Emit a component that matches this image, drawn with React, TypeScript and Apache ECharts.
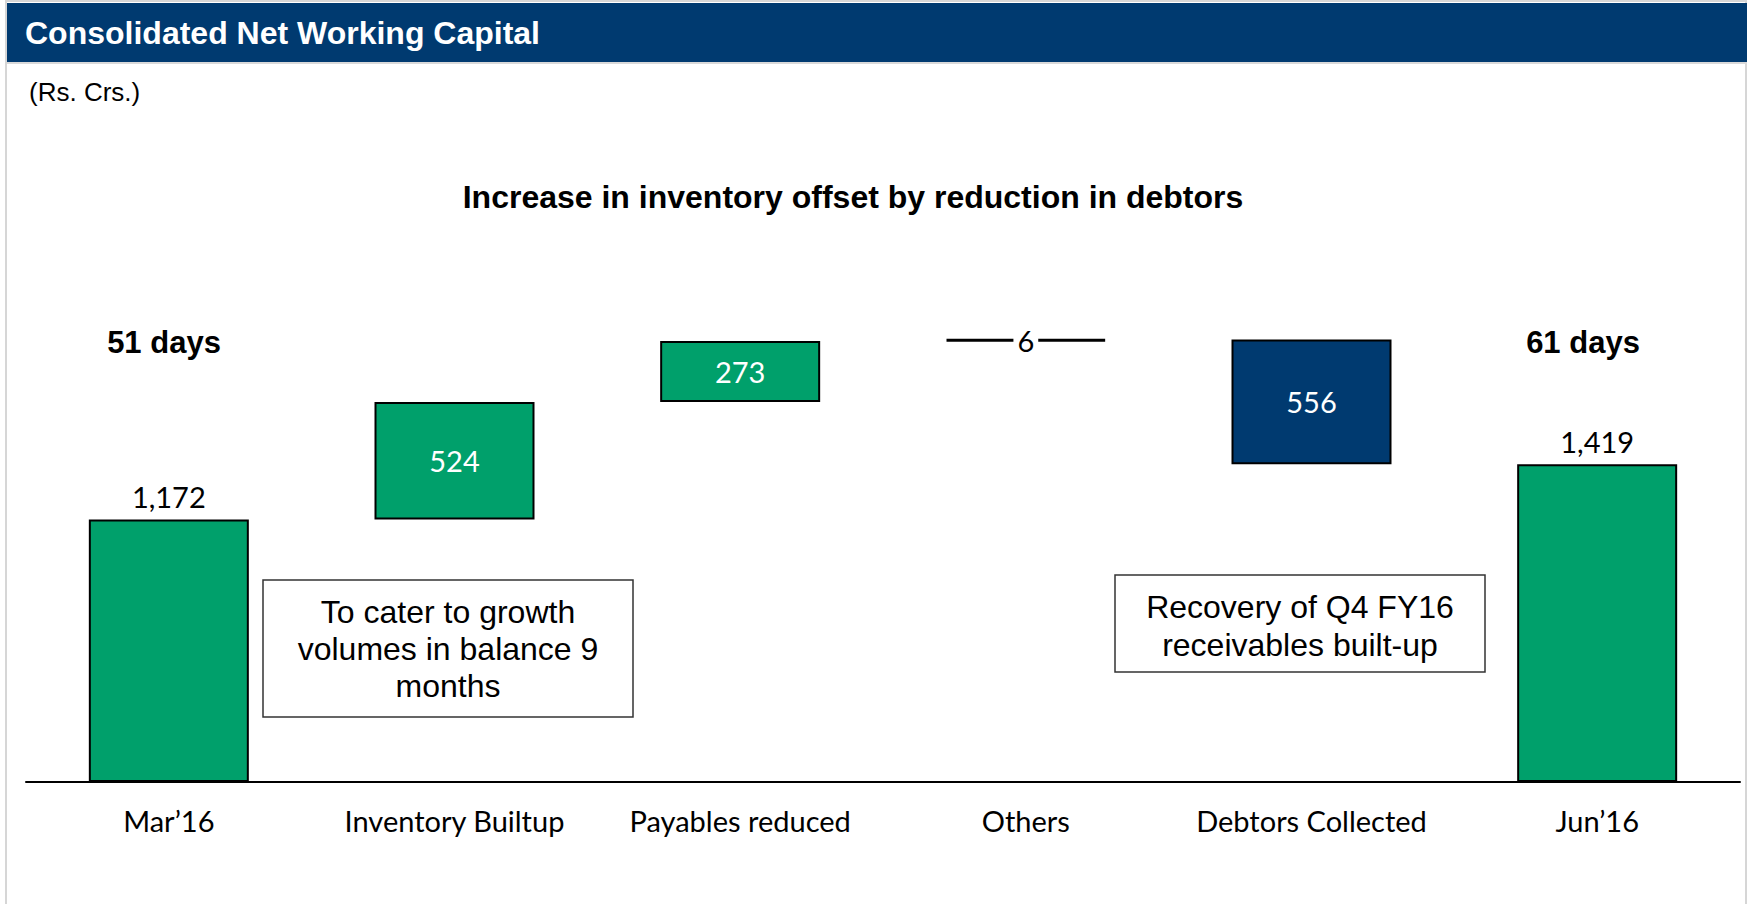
import React, { useEffect, useRef } from "react";
import * as echarts from "echarts";

const categories = ["Mar’16", "Inventory Builtup", "Payables reduced", "Others", "Debtors Collected", "Jun’16"];
const changes = [1172, 524, 273, 6, -556, 1419];
const kinds = ["total", "step", "step", "step", "step", "total"];
const daysLabels = ["51 days", "61 days"];
const notes = ["To cater to growth\nvolumes in balance 9\nmonths", "Recovery of Q4 FY16\nreceivables built-up"];
const titleText = "Consolidated Net Working Capital";
const unitText = "(Rs. Crs.)";
const subtitleText = "Increase in inventory offset by reduction in debtors";

const GREEN = "#00A06B";
const NAVY = "#003A70";
const LABEL_FONT = "Lato, 'Open Sans', sans-serif";
const ARIAL = "'Liberation Sans', Arial, sans-serif";

function buildWaterfall() {
  const base: number[] = [];
  const vals: number[] = [];
  let running = 0;
  changes.forEach((v, i) => {
    if (kinds[i] === "total") {
      base.push(0);
      vals.push(v);
      running = v;
    } else if (v >= 0) {
      base.push(running);
      vals.push(v);
      running += v;
    } else {
      running += v;
      base.push(running);
      vals.push(-v);
    }
  });
  return { base, vals };
}

export default function App() {
  const ref = useRef<HTMLDivElement>(null);
  useEffect(() => {
    if (!ref.current) return;
    const chart = echarts.init(ref.current, null, { renderer: "svg" });
    const { base, vals } = buildWaterfall();
    const fmt = (n: number) => n.toLocaleString("en-US");

    const valueData = vals.map((v, i) => {
      const isTotal = kinds[i] === "total";
      const isTiny = !isTotal && v < 20;
      const color = isTiny ? "#000" : changes[i] < 0 ? NAVY : GREEN;
      return {
        value: v,
        itemStyle: { color, borderColor: "#000", borderWidth: isTiny ? 3 : 2 },
        label: {
          show: true,
          position: isTotal ? "top" : "inside",
          distance: 8,
          formatter: () => fmt(vals[i]),
          color: isTotal || isTiny ? "#000" : "#fff",
          fontFamily: LABEL_FONT,
          fontSize: 29,
          backgroundColor: isTiny ? "#fff" : "transparent",
          padding: isTiny ? [0, 4] : 0,
        },
      };
    });

    const textStyle = (text: string, x: number, y: number, font: string, fill: string, lineHeight?: number) => ({
      type: "text",
      x,
      y,
      style: {
        text,
        font,
        fill,
        textAlign: "center",
        textVerticalAlign: "middle",
        align: "center",
        verticalAlign: "middle",
        lineHeight,
      },
    });

    chart.setOption({
      animation: false,
      backgroundColor: "#fff",
      grid: { left: 26, right: 8, top: 110, bottom: 122, containLabel: false },
      xAxis: {
        type: "category",
        data: categories,
        axisLine: { show: true, lineStyle: { color: "#000", width: 2 } },
        axisTick: { show: false },
        axisLabel: { color: "#000", fontFamily: LABEL_FONT, fontSize: 29, margin: 24, interval: 0 },
        z: 5,
      },
      yAxis: {
        type: "value",
        min: 0,
        max: 3000,
        show: false,
        splitLine: { show: false },
      },
      series: [
        {
          type: "bar",
          stack: "wf",
          silent: true,
          barWidth: 160,
          itemStyle: { color: "transparent", borderWidth: 0 },
          data: base,
        },
        {
          type: "bar",
          stack: "wf",
          barWidth: 160,
          data: valueData,
        },
      ],
      graphic: [
        { type: "rect", shape: { x: 6, y: 1, width: 1740, height: 950 }, style: { fill: "none", stroke: "#d6d6d6", lineWidth: 2 }, z: 1 },
        { type: "rect", shape: { x: 7, y: 3, width: 1740, height: 59 }, style: { fill: NAVY }, z: 2 },
        { type: "rect", shape: { x: 7, y: 62, width: 1740, height: 2 }, style: { fill: "#d9d9d9" }, z: 2 },
        {
          type: "text",
          x: 25,
          y: 33,
          z: 3,
          style: { text: titleText, font: `bold 32px ${ARIAL}`, fill: "#fff", textVerticalAlign: "middle", verticalAlign: "middle" },
        },
        {
          type: "text",
          x: 29,
          y: 92,
          z: 3,
          style: { text: unitText, font: `26px ${ARIAL}`, fill: "#000", textVerticalAlign: "middle", verticalAlign: "middle" },
        },
        { ...textStyle(subtitleText, 853, 197, `bold 32px ${ARIAL}`, "#000"), z: 3 },
        { ...textStyle(daysLabels[0], 164, 342, `bold 31px ${ARIAL}`, "#000"), z: 3 },
        { ...textStyle(daysLabels[1], 1583, 342, `bold 31px ${ARIAL}`, "#000"), z: 3 },
        { type: "rect", shape: { x: 263, y: 580, width: 370, height: 137 }, style: { fill: "#fff", stroke: "#333", lineWidth: 1.5 }, z: 3 },
        { ...textStyle(notes[0], 448, 649, `32px ${ARIAL}`, "#000", 37), z: 4 },
        { type: "rect", shape: { x: 1115, y: 575, width: 370, height: 97 }, style: { fill: "#fff", stroke: "#333", lineWidth: 1.5 }, z: 3 },
        { ...textStyle(notes[1], 1300, 626, `32px ${ARIAL}`, "#000", 38), z: 4 },
      ],
    });
    return () => chart.dispose();
  }, []);
  return <div ref={ref} style={{ position: "fixed", left: 0, top: 0, width: 1748, height: 904 }} />;
}
